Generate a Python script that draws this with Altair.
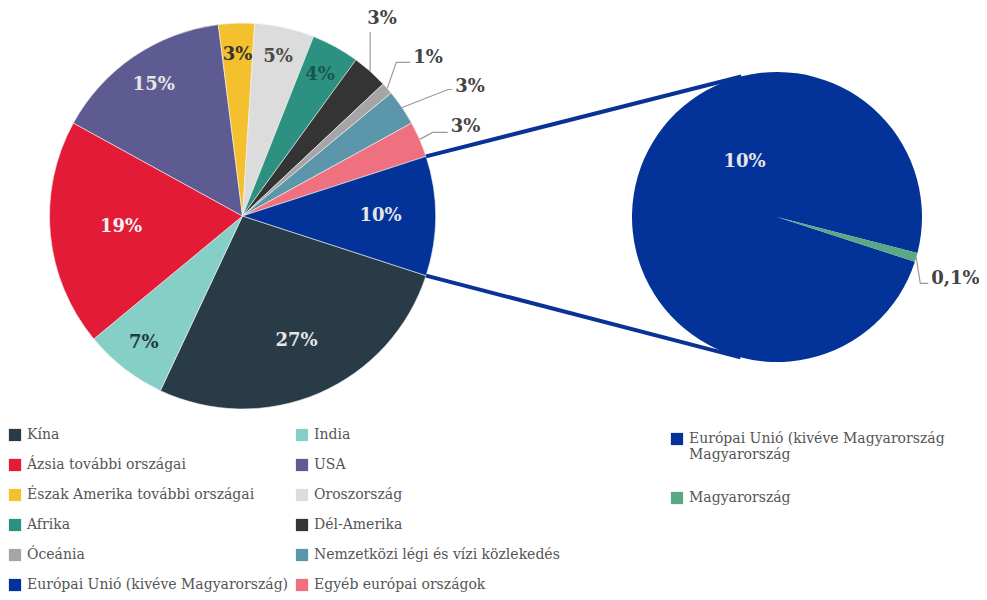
import math
import altair as alt
import pandas as pd

# ---------------- data ----------------
categories = [
    "Kína", "India", "Ázsia további országai", "USA",
    "Észak Amerika további országai", "Oroszország", "Afrika", "Dél-Amerika",
    "Óceánia", "Nemzetközi légi és vízi közlekedés", "Egyéb európai országok",
    "Európai Unió (kivéve Magyarország)",
]
values = [27, 7, 19, 15, 3, 5, 4, 3, 1, 3, 3, 10]

sub_categories = ["Európai Unió (kivéve Magyarország\nMagyarország", "Magyarország"]
sub_values = [9.9, 0.1]

# legend order (the legend fills column by column)
legend_order = [
    "Kína", "Ázsia további országai", "Észak Amerika további országai", "Afrika",
    "Óceánia", "Európai Unió (kivéve Magyarország)",
    "India", "USA", "Oroszország", "Dél-Amerika",
    "Nemzetközi légi és vízi közlekedés", "Egyéb európai országok",
]

# ---------------- style ----------------
slice_colors = {
    "Kína": "#283b47", "India": "#86cfc7", "Ázsia további országai": "#e31b36",
    "USA": "#5e5b92", "Észak Amerika további országai": "#f4c02e",
    "Oroszország": "#dcdcdc", "Afrika": "#2c9181", "Dél-Amerika": "#343434",
    "Óceánia": "#a5a5a5", "Nemzetközi légi és vízi közlekedés": "#5b96aa",
    "Egyéb európai országok": "#ef707f",
    "Európai Unió (kivéve Magyarország)": "#033399",
}
sub_colors = ["#033399", "#5aa984"]

label_color = {
    "Kína": "#e6e6e6", "India": "#1f3b3b", "Ázsia további országai": "#f2f2f2",
    "USA": "#e6e6e6", "Észak Amerika további országai": "#333333",
    "Oroszország": "#4a4a4a", "Afrika": "#17564c",
    "Európai Unió (kivéve Magyarország)": "#e6e6e6",
}
# inside label radius (px) for slices labelled inside the pie
label_radius = {
    "Kína": 136, "India": 161, "Ázsia további országai": 122, "USA": 158,
    "Észak Amerika további országai": 161, "Oroszország": 163, "Afrika": 161,
    "Európai Unió (kivéve Magyarország)": 138,
}
# outside labels: elbow offset from rim, horizontal length, text offset from end
leaders = {
    "Dél-Amerika": (0, -39, 0, -3, -13),
    "Óceánia": (9, -26, 14, 3, -4),
    "Nemzetközi légi és vízi közlekedés": (46, -18, 4, 3, -3),
    "Egyéb európai országok": (13, -7, 15, 3, -5),
}
sub_leader = (4, 26, 8, 3, -4)

FONT = "DejaVu Serif"
W, H = 971, 584
OFFSET = 0.6 * math.pi
CX, CY, R = 234.5, 208.0, 193.0
SCX, SCY, SR = 769.0, 209.0, 145.0


def fmt(v):
    if v >= 1:
        return f"{round(v):d}%"
    return f"{v:.1f}".replace(".", ",") + "%"


def mids(vals):
    total = sum(vals)
    out, cum = [], 0.0
    for v in vals:
        a0 = OFFSET + cum / total * 2 * math.pi
        cum += v
        a1 = OFFSET + cum / total * 2 * math.pi
        out.append((a0, a1, (a0 + a1) / 2))
    return out


def polar(cx, cy, r, a):
    return cx + r * math.sin(a), cy - r * math.cos(a)


# ---------------- main pie tables ----------------
main_df = pd.DataFrame({
    "cat": categories,
    "val": values,
    "idx": list(range(len(categories))),
    "label": [fmt(v) for v in values],
    "lr": [label_radius.get(c, 0) for c in categories],
    "tc": [label_color.get(c, "#444444") for c in categories],
    "inside": [c in label_radius for c in categories],
})
main_df["mid"] = main_df["val"].cumsum() - main_df["val"] / 2

ang = mids(values)
lead_rows, out_rows = [], []
for i, c in enumerate(categories):
    if c not in leaders:
        continue
    ex, ey, hl, tx, ty = leaders[c]
    rx, ry = polar(CX, CY, R, ang[i][2])
    pts = [(rx, ry), (rx + ex, ry + ey), (rx + ex + hl, ry + ey)]
    for s, (px, py) in enumerate(pts):
        lead_rows.append({"g": c, "s": s, "x": px, "y": py})
    out_rows.append({"x": pts[-1][0] + tx, "y": pts[-1][1] + ty, "t": fmt(values[i])})

# second pie tables
sub_df = pd.DataFrame({
    "cat": sub_categories,
    "val": sub_values,
    "idx": [0, 1],
    "label": [fmt(v) for v in sub_values],
    "inside": [True, False],
})
sub_df["mid"] = sub_df["val"].cumsum() - sub_df["val"] / 2
sang = mids(sub_values)
ex, ey, hl, tx, ty = sub_leader
rx, ry = polar(SCX, SCY, SR, sang[1][2])
pts = [(rx, ry), (rx + ex, ry + ey), (rx + ex + hl, ry + ey)]
for s, (px, py) in enumerate(pts):
    lead_rows.append({"g": "hu", "s": s, "x": px, "y": py})
out_rows.append({"x": pts[-1][0] + tx, "y": pts[-1][1] + ty, "t": fmt(sub_values[1])})

lead_df = pd.DataFrame(lead_rows)
out_df = pd.DataFrame(out_rows)

# pie-of-pie connector lines: EU slice edges -> tangent points of second pie
eu = categories.index("Európai Unió (kivéve Magyarország)")
conn_rows = []
for a, sign in ((ang[eu][0], 1), (ang[eu][1], -1)):
    px, py = polar(CX, CY, R, a)
    vx, vy = px - SCX, py - SCY
    d = math.hypot(vx, vy)
    alpha = math.acos(SR / d)
    base = math.atan2(vy, vx)
    tpts = [(SCX + SR * math.cos(b), SCY + SR * math.sin(b)) for b in (base + alpha, base - alpha)]
    tpt = min(tpts, key=lambda p: p[1]) if sign == 1 else max(tpts, key=lambda p: p[1])
    conn_rows.append({"x": px, "y": py, "x2": tpt[0], "y2": tpt[1]})
conn_df = pd.DataFrame(conn_rows)

# ---------------- chart ----------------
main_theta = alt.Scale(domain=[0, sum(values)], range=[OFFSET, OFFSET + 2 * math.pi])
sub_theta = alt.Scale(domain=[0, sum(sub_values)], range=[OFFSET, OFFSET + 2 * math.pi])

main_arc = alt.Chart(main_df).mark_arc(
    outerRadius=R, stroke="#f4f4f4", strokeWidth=0.6
).encode(
    theta=alt.Theta("val:Q", stack=True, scale=main_theta),
    color=alt.Color(
        "cat:N",
        scale=alt.Scale(domain=legend_order, range=[slice_colors[c] for c in legend_order]),
        legend=alt.Legend(
            title=None, orient="none", legendX=0, legendY=420, columns=2,
            columnPadding=6, rowPadding=16, symbolType="square", symbolSize=150,
            symbolStrokeWidth=0, labelFont=FONT, labelFontSize=14, labelColor="#555555",
            labelLimit=400, padding=0, symbolOffset=0, labelOffset=5,
        ),
    ),
    order=alt.Order("idx:Q"),
    x=alt.value(CX), y=alt.value(CY),
)

main_text = alt.Chart(main_df).transform_calculate(
    txt="datum.inside ? datum.label : ''"
).mark_text(font=FONT, fontSize=18, fontWeight="bold").encode(
    theta=alt.Theta("mid:Q", scale=main_theta),
    radius=alt.Radius("lr:Q", scale=None),
    text="txt:N",
    fill=alt.Fill("tc:N", scale=None),
    x=alt.value(CX), y=alt.value(CY),
)

sub_arc = alt.Chart(sub_df).mark_arc(outerRadius=SR).encode(
    theta=alt.Theta("val:Q", stack=True, scale=sub_theta),
    color=alt.Color(
        "cat:N",
        scale=alt.Scale(domain=sub_categories, range=sub_colors),
        legend=alt.Legend(
            title=None, orient="none", legendX=662, legendY=424,
            rowPadding=29, symbolType="square", symbolSize=150, symbolStrokeWidth=0,
            labelFont=FONT, labelFontSize=14, labelColor="#555555", labelLimit=400,
            padding=0, labelOffset=5, labelExpr="split(datum.label, '\\n')",
        ),
    ),
    order=alt.Order("idx:Q"),
    x=alt.value(SCX), y=alt.value(SCY),
)

sub_text = alt.Chart(sub_df).transform_calculate(
    txt="datum.inside ? datum.label : ''"
).mark_text(font=FONT, fontSize=18, fontWeight="bold", radius=64, dx=29, dy=-37,
            color="#e6e6e6").encode(
    theta=alt.Theta("mid:Q", scale=sub_theta),
    text="txt:N",
    x=alt.value(SCX), y=alt.value(SCY),
)

conn = alt.Chart(conn_df).mark_rule(color="#0a3296", strokeWidth=4).encode(
    x=alt.X("x:Q", scale=None, axis=None), y=alt.Y("y:Q", scale=None, axis=None),
    x2="x2:Q", y2="y2:Q",
)

lead = alt.Chart(lead_df).mark_line(color="#9a9a9a", strokeWidth=1.2).encode(
    x=alt.X("x:Q", scale=None, axis=None), y=alt.Y("y:Q", scale=None, axis=None),
    detail="g:N", order="s:Q",
)

out_text = alt.Chart(out_df).mark_text(
    font=FONT, fontSize=18, fontWeight="bold", align="left", baseline="middle",
    color="#444444",
).encode(
    x=alt.X("x:Q", scale=None, axis=None), y=alt.Y("y:Q", scale=None, axis=None),
    text="t:N",
)

main = alt.layer(main_arc, main_text)
sub = alt.layer(sub_arc, sub_text)

chart = alt.layer(main, sub, conn, lead, out_text).resolve_scale(
    theta="independent", color="independent", x="independent", y="independent"
).properties(
    width=W, height=H, padding=0, autosize=alt.AutoSizeParams(type="none")
).configure_view(strokeWidth=0)

chart.save("out.html", embed_options={"renderer": "svg", "actions": False})
